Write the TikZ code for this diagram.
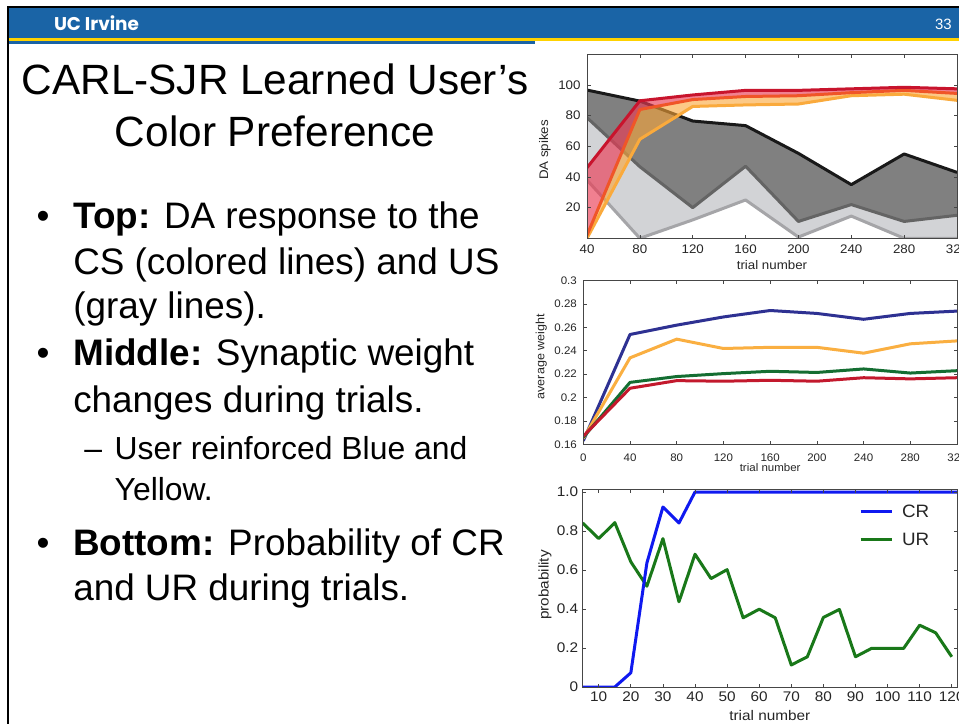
\documentclass[tikz,border=0pt]{standalone}
\usepackage{fontspec}
\setmainfont{Liberation Sans}
\newfontfamily\hdrfont{Poppins}
\newfontfamily\figfontA[FakeStretch=1.07]{Liberation Sans}
\newfontfamily\figfontB[FakeStretch=1.05]{Liberation Sans}
\newfontfamily\figfontC[FakeStretch=1.1]{Liberation Sans}

\definecolor{ucblue}{RGB}{26,100,166}
\definecolor{ucgold}{RGB}{255,210,0}
\definecolor{axgray}{RGB}{70,70,70}
% DA spikes panel
\definecolor{dgfill}{RGB}{128,128,128}
\definecolor{lgfill}{RGB}{210,211,214}
\definecolor{bkline}{RGB}{25,25,25}
\definecolor{mgline}{RGB}{100,100,100}
\definecolor{lgline}{RGB}{165,165,168}
\definecolor{rline}{RGB}{200,20,45}
\definecolor{oline}{RGB}{240,85,40}
\definecolor{yline}{RGB}{250,170,60}
\definecolor{pinkc}{RGB}{235,60,85}
\definecolor{orc}{RGB}{250,165,55}
% weight panel
\definecolor{wblue}{RGB}{46,49,146}
\definecolor{wyellow}{RGB}{250,175,65}
\definecolor{wgreen}{RGB}{20,110,50}
\definecolor{wred}{RGB}{195,25,45}
% probability panel
\definecolor{crblue}{RGB}{15,25,240}
\definecolor{urgreen}{RGB}{25,120,25}

\begin{document}
\begin{tikzpicture}[x=1bp,y=-1bp,
  every node/.style={inner sep=0pt,outer sep=0pt},
  titletxt/.style={font=\fontsize{42.5}{50}\selectfont},
  bodytxt/.style={anchor=base west,font=\fontsize{37}{44}\selectfont},
  subtxt/.style={anchor=base west,font=\fontsize{32}{40}\selectfont},
  bul/.style={anchor=base,font=\fontsize{37}{44}\selectfont},
  frm/.style={draw=axgray,line width=0.7bp},
  tck/.style={draw=axgray,line width=0.7bp},
  dline/.style={line width=3bp,line join=round},
  labA/.style={font=\figfontA\fontsize{12.5}{14}\selectfont,text=black!85},
  labB/.style={font=\figfontB\fontsize{11}{13}\selectfont,text=black!85},
  labC/.style={font=\figfontC\fontsize{14}{16}\selectfont,text=black!85},
  leg/.style={font=\figfontB\fontsize{18}{20}\selectfont,text=black!85,anchor=west}]

\useasboundingbox (0,0) rectangle (959,724);
\clip (0,0) rectangle (959,724);
\fill[white] (0,0) rectangle (959,724);

% ---------- header band ----------
\fill[black] (7,6) rectangle (959,8);
\fill[ucblue] (8.7,8) rectangle (959,38.5);
\fill[ucgold] (8.7,38.5) rectangle (959,41);
\fill[ucblue] (8.7,41) rectangle (535,44);
\fill[black] (7,6) rectangle (8.7,724);
\node[anchor=base west,text=white,font=\hdrfont\bfseries\fontsize{18.5}{20}\selectfont] (hdr) at (54,30.5) {UC Irvine};
\node[anchor=base east,text=white,font=\fontsize{15}{17}\selectfont] (pgno) at (951.7,30) {33};

% ---------- title ----------
\node[titletxt,anchor=base] (title1) at (275,95) {CARL-SJR Learned User’s};
\node[titletxt,anchor=base] (title2) at (275,147) {Color Preference};

% ---------- bullets ----------
\node[bul] (b1) at (43,228.7) {•};
\node[bodytxt] (t1a) at (73.3,228.7) {\textbf{Top:} DA response to the};
\node[bodytxt] (t1b) at (73.3,274) {CS (colored lines) and US};
\node[bodytxt] (t1c) at (73.3,318) {(gray lines).};
\node[bul] (b2) at (43,365.8) {•};
\node[bodytxt] (t2a) at (73.3,365.8) {\textbf{Middle:} Synaptic weight};
\node[bodytxt] (t2b) at (73.3,412.3) {changes during trials.};
\node[subtxt] (d1) at (84.4,459.8) {–};
\node[subtxt] (s1a) at (114.7,459.8) {User reinforced Blue and};
\node[subtxt] (s1b) at (114.7,500) {Yellow.};
\node[bul] (b3) at (43,555) {•};
\node[bodytxt] (t3a) at (73.3,555) {\textbf{Bottom:} Probability of CR};
\node[bodytxt] (t3b) at (73.3,600) {and UR during trials.};

% ---------- top panel: DA spikes ----------
\begin{scope}[shift={(534.14,238.3)},x=1.32143bp,y=1.533bp]
  \begin{scope}
    \clip (40,0) rectangle (320,120);
    \fill[lgfill] (40,78.7) -- (80,46.7) -- (120,20) -- (160,47) -- (200,11) -- (240,22) -- (280,11) -- (320,15)
      -- (320,0) -- (280,0) -- (240,14.5) -- (200,0.8) -- (160,25) -- (120,12) -- (80,0) -- (40,38) -- cycle;
    \fill[dgfill] (40,96.7) -- (80,89.5) -- (120,76.5) -- (160,73.5) -- (200,55.4) -- (240,35) -- (280,55) -- (320,43)
      -- (320,15) -- (280,11) -- (240,22) -- (200,11) -- (160,47) -- (120,20) -- (80,46.7) -- (40,78.7) -- cycle;
    \draw[dline,lgline] (40,38) -- (80,0) -- (120,12) -- (160,25) -- (200,0.8) -- (240,14.5) -- (280,0) -- (320,0);
    \draw[dline,mgline] (40,78.7) -- (80,46.7) -- (120,20) -- (160,47) -- (200,11) -- (240,22) -- (280,11) -- (320,15);
    \draw[dline,bkline] (40,96.7) -- (80,89.5) -- (120,76.5) -- (160,73.5) -- (200,55.4) -- (240,35) -- (280,55) -- (320,43);
    \fill[pinkc,fill opacity=0.65] (40,46) -- (80,89.7) -- (120,93.5) -- (160,96.5) -- (200,96.5) -- (240,97.5) -- (280,98.5) -- (320,97.5)
      -- (320,94.5) -- (280,96.5) -- (240,95) -- (200,93) -- (160,92.5) -- (120,90.5) -- (80,84) -- (40,2) -- cycle;
    \fill[orc,fill opacity=0.6] (40,2) -- (80,84) -- (120,90.5) -- (160,92.5) -- (200,93) -- (240,95) -- (280,96.5) -- (320,94.5)
      -- (320,90) -- (280,94) -- (240,93) -- (200,87.6) -- (160,87) -- (120,86) -- (80,64.6) -- (40,0) -- cycle;
    \draw[dline,yline] (40,0) -- (80,64.6) -- (120,86) -- (160,87) -- (200,87.6) -- (240,93) -- (280,94) -- (320,90);
    \draw[dline,oline] (40,2) -- (80,84) -- (120,90.5) -- (160,92.5) -- (200,93) -- (240,95) -- (280,96.5) -- (320,94.5);
    \draw[dline,rline] (40,46) -- (80,89.7) -- (120,93.5) -- (160,96.5) -- (200,96.5) -- (240,97.5) -- (280,98.5) -- (320,97.5);
  \end{scope}
  \draw[frm] (40,0) rectangle (320,120);
  \foreach \t in {40,80,...,320} {
    \draw[tck] (\t,0) -- ++(0,3.5bp);
    \draw[tck] (\t,120) -- ++(0,-3.5bp);
    \node[labA,anchor=base,yshift=-15bp] (tx\t) at (\t,0) {\t};
  }
  \foreach \v in {20,40,...,100} {
    \draw[tck] (40,\v) -- ++(3.5bp,0);
    \draw[tck] (320,\v) -- ++(-3.5bp,0);
    \node[labA,anchor=east,xshift=-6.5bp] (ty\v) at (40,\v) {\v};
  }
  \node[labA] (txl) at (180,-17.4) {trial number};
  \node[labA,rotate=90] (tyl) at (8.2,57.6) {DA spikes};
\end{scope}

% ---------- middle panel: average weight ----------
\begin{scope}[shift={(583.3,631.3)},x=1.1678bp,y=1168.6bp]
  \begin{scope}
    \clip (0,0.16) rectangle (320,0.30);
    \draw[dline,wblue] (0,0.163) -- (40,0.254) -- (80,0.262) -- (120,0.269) -- (160,0.2745) -- (200,0.272) -- (240,0.267) -- (280,0.272) -- (320,0.274);
    \draw[dline,wyellow] (0,0.165) -- (40,0.234) -- (80,0.250) -- (120,0.242) -- (160,0.243) -- (200,0.243) -- (240,0.238) -- (280,0.246) -- (320,0.2485);
    \draw[dline,wgreen] (0,0.166) -- (40,0.213) -- (80,0.218) -- (120,0.2205) -- (160,0.2225) -- (200,0.2215) -- (240,0.2245) -- (280,0.221) -- (320,0.223);
    \draw[dline,wred] (0,0.167) -- (40,0.208) -- (80,0.2145) -- (120,0.214) -- (160,0.2148) -- (200,0.214) -- (240,0.217) -- (280,0.216) -- (320,0.217);
  \end{scope}
  \draw[frm] (0,0.16) rectangle (320,0.30);
  \foreach \t in {0,40,...,320} {
    \draw[tck] (\t,0.16) -- ++(0,3.5bp);
    \draw[tck] (\t,0.30) -- ++(0,-3.5bp);
    \node[labB,anchor=base,yshift=-17bp] (mx\t) at (\t,0.16) {\t};
  }
  \foreach \v/\l [count=\i] in {0.16/0.16,0.18/0.18,0.20/0.2,0.22/0.22,0.24/0.24,0.26/0.26,0.28/0.28,0.30/0.3} {
    \draw[tck] (0,\v) -- ++(3.5bp,0);
    \draw[tck] (320,\v) -- ++(-3.5bp,0);
    \node[labB,anchor=east,xshift=-6.5bp] (my\i) at (0,\v) {\l};
  }
  \node[labB] (mxl) at (160,0.1403) {trial number};
  \node[labB,font=\figfontB\fontsize{12}{14}\selectfont,rotate=90] (myl) at (-35.9,0.2349) {average weight};
\end{scope}

% ---------- bottom panel: probability ----------
\begin{scope}[shift={(566.65,687)},x=3.209bp,y=195bp]
  \begin{scope}
    \clip (5,0) rectangle (121.9,1.015);
    \draw[dline,urgreen] (5,0.841) -- (10,0.761) -- (15,0.843) -- (20,0.642) -- (25,0.517) -- (30,0.761) -- (35,0.437) -- (40,0.681)
      -- (45,0.556) -- (50,0.602) -- (55,0.355) -- (60,0.399) -- (65,0.355) -- (70,0.113) -- (75,0.155) -- (80,0.357) -- (85,0.398)
      -- (90,0.155) -- (95,0.198) -- (100,0.198) -- (105,0.198) -- (110,0.317) -- (115,0.278) -- (120,0.155);
    \draw[dline,crblue] (5,0) -- (15,0) -- (20,0.073) -- (25,0.636) -- (30,0.923) -- (35,0.841) -- (40,1) -- (121.9,1);
  \end{scope}
  \draw[frm] (5,0) rectangle (121.9,1.015);
  \foreach \t in {10,20,...,120} {
    \draw[tck] (\t,0) -- ++(0,3.5bp);
    \draw[tck] (\t,1.015) -- ++(0,-3.5bp);
    \node[labC,anchor=base,yshift=-14bp] (px\t) at (\t,0) {\t};
  }
  \foreach \v/\l [count=\i] in {0/0,0.2/0.2,0.4/0.4,0.6/0.6,0.8/0.8,1.0/1.0} {
    \draw[tck] (5,\v) -- ++(3.5bp,0);
    \draw[tck] (121.9,\v) -- ++(-3.5bp,0);
    \node[labC,anchor=east,xshift=-4.5bp] (py\i) at (5,\v) {\l};
  }
  \node[labC] (pxl) at (63.3,-0.144) {trial number};
  \node[labC,rotate=90] (pyl) at (-6.73,0.523) {probability};
\end{scope}

% legend of the probability panel
\coordinate (crA) at (860.7,511.5);
\coordinate (crB) at (891.7,511.5);
\coordinate (urA) at (860.7,539.5);
\coordinate (urB) at (891.7,539.5);
\draw[dline,crblue] (crA) -- (crB);
\draw[dline,urgreen] (urA) -- (urB);
\node[leg] (lcr) at (902,511.5) {CR};
\node[leg] (lur) at (902,539.5) {UR};

\end{tikzpicture}
\end{document}
